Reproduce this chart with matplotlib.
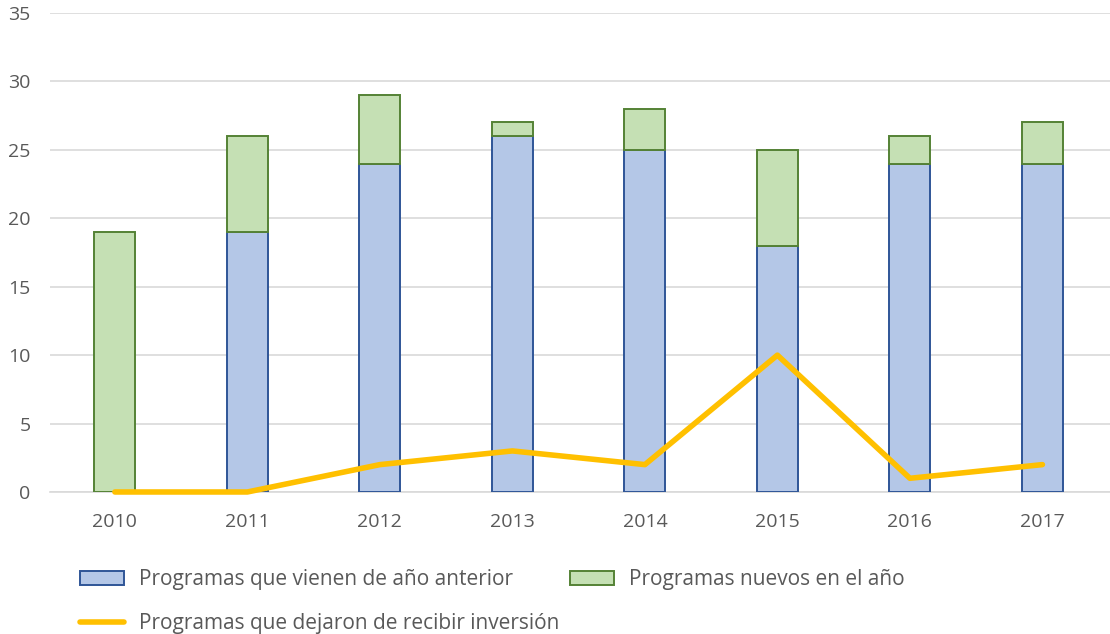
import matplotlib
matplotlib.use("Agg")
import matplotlib.pyplot as plt
from matplotlib.patches import Patch
from matplotlib.lines import Line2D
import numpy as np

years = ["2010", "2011", "2012", "2013", "2014", "2015", "2016", "2017"]
anterior = [0, 19, 24, 26, 25, 18, 24, 24]
nuevos = [19, 7, 5, 1, 3, 7, 2, 3]
dejaron = [0, 0, 2, 3, 2, 10, 1, 2]
y_ticks = [0, 5, 10, 15, 20, 25, 30, 35]

plt.rcParams['font.family'] = ['Open Sans', 'DejaVu Sans']
txt = '#595959'

fig = plt.figure(figsize=(11.1, 6.34), dpi=100)
ax = fig.add_axes([0.045, 0.224, 0.955, 0.7555])

x = np.arange(len(years))
w = 0.31
blue_fc, blue_ec = '#B4C7E7', '#2F5597'
green_fc, green_ec = '#C5E0B4', '#548235'
line_c = '#FFC000'

for xi, a, n in zip(x, anterior, nuevos):
    if a > 0:
        ax.bar(xi, a, w, color=blue_fc, edgecolor=blue_ec, linewidth=1.4, zorder=3)
    ax.bar(xi, n, w, bottom=a, color=green_fc, edgecolor=green_ec, linewidth=1.4, zorder=3)

ax.plot(x, dejaron, color=line_c, linewidth=4, solid_capstyle='round', zorder=4, clip_on=False)

ax.set_xlim(-0.49, 7.51)
ax.set_ylim(0, 35)
ax.set_yticks(y_ticks)
ax.set_xticks(x)
ax.set_xticklabels(years)
ax.grid(axis='y', color='#D9D9D9', linewidth=1.2, zorder=0)
ax.set_axisbelow(True)
for s in ['top', 'right', 'left']:
    ax.spines[s].set_visible(False)
ax.spines['bottom'].set_color('#D9D9D9')
ax.spines['bottom'].set_linewidth(1.2)
ax.tick_params(axis='both', length=0, labelsize=14, labelcolor=txt)
ax.tick_params(axis='x', pad=15)
ax.tick_params(axis='y', pad=14)

handles = [
    Patch(facecolor=blue_fc, edgecolor=blue_ec, linewidth=1.4, label='Programas que vienen de año anterior'),
    Line2D([0], [0], color=line_c, linewidth=4, solid_capstyle='round', label='Programas que dejaron de recibir inversión'),
    Patch(facecolor=green_fc, edgecolor=green_ec, linewidth=1.4, label='Programas nuevos en el año'),
]
leg = fig.legend(handles=handles, ncol=2, loc='upper left', bbox_to_anchor=(0.072, 0.102),
                 frameon=False, fontsize=15, labelcolor=txt, handlelength=2.1,
                 handleheight=0.7, handletextpad=0.75, columnspacing=0.5, labelspacing=1.1,
                 borderaxespad=0, borderpad=0)

fig.savefig('out.png', dpi=100)
